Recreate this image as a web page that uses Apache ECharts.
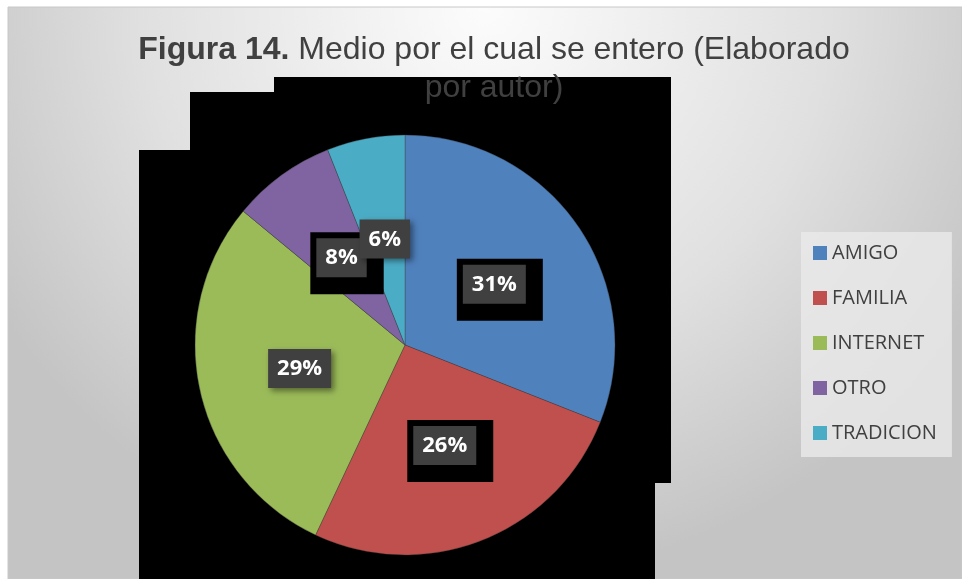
<!DOCTYPE html>
<html lang="es">
<head>
    <meta charset="UTF-8">
    <title>Figura 14</title>
    <script src="https://cdn.jsdelivr.net/npm/echarts@6/dist/echarts.min.js"></script>
    <style>
        html, body { margin: 0; padding: 0; background: #fff; }
        #main { width: 962px; height: 579px; }
    </style>
</head>
<body>
<div id="main"></div>
<script>
    // datos (porcentajes)
    var categorias = ['AMIGO', 'FAMILIA', 'INTERNET', 'OTRO', 'TRADICION'];
    var valores = [31, 26, 29, 8, 6];
    var colores = ['#4F81BD', '#C0504D', '#9BBB59', '#8064A2', '#4BACC6'];

    // etiquetas que en la imagen original quedan sobre un recuadro negro
    var conRecuadro = ['AMIGO', 'FAMILIA', 'OTRO'];

    var myChart = echarts.init(document.getElementById('main'));

    var datos = categorias.map(function (c, i) {
        var item = {name: c, value: valores[i], itemStyle: {color: colores[i]}};
        if (conRecuadro.indexOf(c) >= 0) {
            item.label = {
                backgroundColor: '#000',
                padding: [6, 17, 17, 6],
                offset: [5.5, 5.5]
            };
        }
        return item;
    });

    var option = {
        animation: false,
        backgroundColor: '#fff',
        graphic: [
            {
                type: 'rect',
                z: 0,
                shape: {x: 8, y: 7, width: 954, height: 572},
                style: {
                    fill: new echarts.graphic.RadialGradient(0.5, 0, 1.0, [
                        {offset: 0, color: '#fcfcfc'},
                        {offset: 0.6, color: '#e0e0e0'},
                        {offset: 1, color: '#c4c4c4'}
                    ]),
                    stroke: '#c8c8c8',
                    lineWidth: 1
                }
            },
            {
                // zona negra del original
                type: 'polygon',
                z: 1,
                shape: {
                    points: [[274, 77], [671, 77], [671, 483], [655, 483], [655, 579],
                        [139, 579], [139, 150], [190, 150], [190, 92], [274, 92]]
                },
                style: {fill: '#000'}
            }
        ],
        title: {
            text: '{b|Figura 14.} Medio por el cual se entero (Elaborado\npor autor)',
            left: 489,
            top: 26,
            textAlign: 'center',
            textStyle: {
                fontFamily: 'Liberation Sans',
                fontSize: 32,
                fontWeight: 'normal',
                color: '#404040',
                lineHeight: 38,
                rich: {
                    b: {
                        fontFamily: 'Liberation Sans',
                        fontSize: 32,
                        fontWeight: 'bold',
                        color: '#404040',
                        lineHeight: 38
                    }
                }
            }
        },
        legend: {
            orient: 'vertical',
            left: 801,
            top: 232,
            icon: 'rect',
            itemWidth: 14,
            itemHeight: 14,
            itemGap: 25,
            padding: [11, 15, 14, 12],
            backgroundColor: 'rgba(234,234,234,0.8)',
            itemStyle: {borderWidth: 0},
            data: categorias,
            textStyle: {
                fontFamily: 'Open Sans',
                fontSize: 20,
                color: '#404040'
            }
        },
        series: [
            {
                type: 'pie',
                z: 2,
                center: [405, 345],
                radius: 210,
                startAngle: 90,
                clockwise: true,
                itemStyle: {borderColor: 'rgba(60,60,60,0.6)', borderWidth: 0.6},
                emphasis: {scale: false},
                labelLayout: {hideOverlap: false},
                label: {
                    show: true,
                    position: 'inside',
                    formatter: function (p) {
                        return '{g|' + p.value + '%}';
                    },
                    rich: {
                        g: {
                            fontFamily: 'Open Sans',
                            fontSize: 22,
                            fontWeight: 'bold',
                            color: '#fff',
                            backgroundColor: '#404040',
                            padding: [9, 9, 8, 9],
                            shadowBlur: 6,
                            shadowColor: 'rgba(0,0,0,0.45)',
                            shadowOffsetX: 3,
                            shadowOffsetY: 3
                        }
                    }
                },
                labelLine: {show: false},
                data: datos
            }
        ]
    };

    myChart.setOption(option);
</script>
</body>
</html>
